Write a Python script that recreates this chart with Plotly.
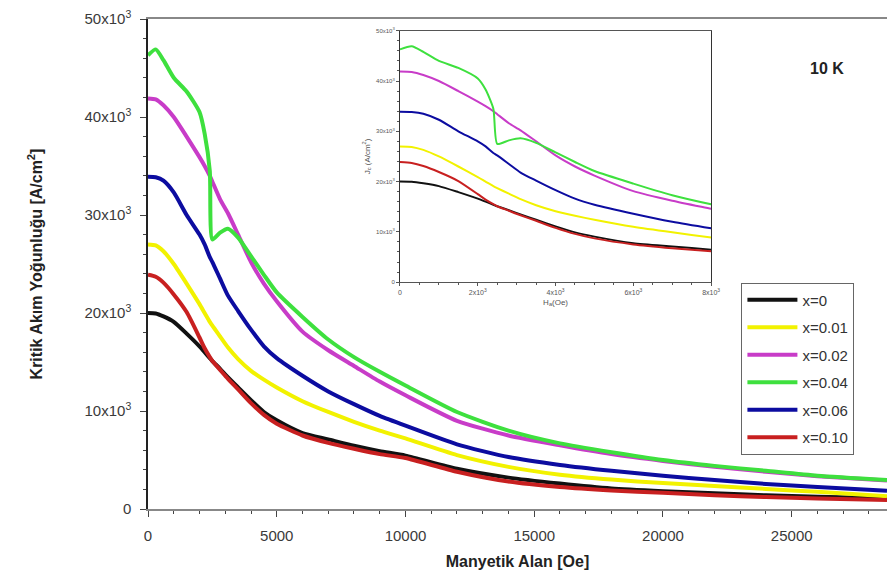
import plotly.graph_objects as go

# Applied magnetic field (Oe)
field_oe = [0, 300, 600, 1000, 1500, 2000, 2200, 2400, 2500, 2800, 3100, 3500, 4000, 4500,
            5000, 6000, 7000, 8000, 9000, 10000, 12000, 14000, 16000, 18000, 20000, 22000,
            24000, 26000, 28700]

# Critical current density (A/cm^2) for each composition
jc_x000 = [20000, 19950, 19650, 19100, 17900, 16600, 16000, 15400, 15100, 14300, 13450, 12400,
           11100, 9900, 9050, 7750, 7100, 6450, 5900, 5450, 4100, 3200, 2600, 2100, 1820, 1600,
           1400, 1250, 1100]
jc_x001 = [27000, 26900, 26300, 25000, 23000, 20900, 20000, 19100, 18700, 17600, 16500, 15300,
           14100, 13200, 12400, 11000, 9900, 8900, 8000, 7200, 5500, 4300, 3500, 3000, 2650, 2350,
           2050, 1750, 1300]
jc_x002 = [41900, 41800, 41200, 40000, 38000, 35900, 35000, 34000, 33400, 31600, 30200, 28000,
           25200, 23000, 21200, 18100, 16200, 14600, 13000, 11600, 9000, 7500, 6500, 5600, 4900,
           4300, 3800, 3350, 2900]
jc_x004 = [46300, 46900, 45800, 44000, 42600, 40500, 38300, 34500, 27500, 28200, 28600, 27700,
           25800, 23900, 22100, 19600, 17300, 15500, 14000, 12600, 9900, 8000, 6700, 5800, 5000,
           4400, 3900, 3400, 2950]
jc_x006 = [33900, 33850, 33500, 32300, 30000, 28000, 27000, 25700, 25200, 23500, 21800, 20200,
           18300, 16600, 15400, 13600, 12000, 10700, 9500, 8500, 6600, 5300, 4500, 3900, 3400,
           2950, 2550, 2250, 1870]
jc_x010 = [23900, 23700, 23100, 21900, 20100, 17500, 16400, 15500, 15100, 14200, 13300, 12200,
           10800, 9600, 8700, 7500, 6750, 6150, 5600, 5200, 3800, 2800, 2250, 1900, 1650, 1400,
           1220, 1080, 920]

series_names = ["x=0", "x=0.01", "x=0.02", "x=0.04", "x=0.06", "x=0.10"]
series_values = [jc_x000, jc_x001, jc_x002, jc_x004, jc_x006, jc_x010]
series_colors = ["#111111", "#f2f200", "#c83cc8", "#3ee03e", "#0c0ca0", "#c82020"]

main_xticks = [0, 5000, 10000, 15000, 20000, 25000]
main_yticks = [0, 10000, 20000, 30000, 40000, 50000]
main_ytext = ["0", "10x10<sup>3</sup>", "20x10<sup>3</sup>", "30x10<sup>3</sup>",
              "40x10<sup>3</sup>", "50x10<sup>3</sup>"]
inset_xticks = [0, 2000, 4000, 6000, 8000]
inset_xtext = ["0", "2x10<sup>3</sup>", "4x10<sup>3</sup>", "6x10<sup>3</sup>", "8x10<sup>3</sup>"]

FONT = "Liberation Sans, Arial, sans-serif"

fig = go.Figure()

# Main panel
for name, vals, col in zip(series_names, series_values, series_colors):
    fig.add_trace(go.Scatter(x=field_oe, y=vals, mode="lines", name=name,
                             legendgroup=name,
                             line=dict(color=col, width=4, shape="spline", smoothing=0.6),
                             xaxis="x", yaxis="y"))

# Inset: low-field region
for name, vals, col in zip(series_names, series_values, series_colors):
    fig.add_trace(go.Scatter(x=field_oe, y=vals, mode="lines", name=name,
                             legendgroup=name, showlegend=False,
                             line=dict(color=col, width=2, shape="spline", smoothing=0.6),
                             xaxis="x2", yaxis="y2"))

fig.update_layout(
    width=896, height=583,
    margin=dict(l=148, r=0, t=19, b=74),
    paper_bgcolor="white", plot_bgcolor="white",
    font=dict(family=FONT, color="#333333"),
    showlegend=True,
    legend=dict(x=0.803, y=0.462, xanchor="left", yanchor="top",
                bordercolor="#666666", borderwidth=1, bgcolor="white",
                font=dict(size=15, color="#333333"), tracegroupgap=5,
                itemwidth=50),
    xaxis=dict(domain=[0, 1], range=[0, 28700], tickvals=main_xticks, tickformat="d",
               showgrid=False, zeroline=False, showline=True, linecolor="#888888",
               linewidth=2, mirror=True, ticks="outside", ticklen=6, tickcolor="#444444",
               ticklabelstandoff=6,
               minor=dict(dtick=1000, ticks="outside", ticklen=3, tickcolor="#444444"),
               tickfont=dict(size=15, color="#3a3a3a"),
               title=dict(text="<b>Manyetik Alan [Oe]</b>", font=dict(size=16, color="#222222"),
                          standoff=13)),
    yaxis=dict(domain=[0, 1], range=[0, 50000], tickvals=main_yticks, ticktext=main_ytext,
               showgrid=False, zeroline=False, showline=True, linecolor="#222222",
               linewidth=1.5, ticks="outside", ticklen=6, tickcolor="#444444",
               ticklabelstandoff=6,
               minor=dict(dtick=2000, ticks="outside", ticklen=3, tickcolor="#444444"),
               tickfont=dict(size=15, color="#3a3a3a"),
               title=dict(text="<b>Kritik Akım Yoğunluğu [A/cm<sup>2</sup>]</b>",
                          font=dict(size=16, color="#222222"), standoff=38)),
    xaxis2=dict(domain=[0.341, 0.762], anchor="y2", range=[0, 8000], tickvals=inset_xticks,
                ticktext=inset_xtext, showgrid=False, zeroline=False, showline=True,
                linecolor="#555555", linewidth=1, mirror=True, ticks="outside", ticklen=3,
                tickcolor="#555555",
                minor=dict(dtick=500, ticks="outside", ticklen=2, tickcolor="#555555"),
                tickfont=dict(size=7, color="#555555"),
                title=dict(text="H<sub>a</sub>(Oe)", font=dict(size=8, color="#555555"),
                           standoff=4)),
    yaxis2=dict(domain=[0.463, 0.976], anchor="x2", range=[0, 50000], tickvals=main_yticks,
                ticktext=main_ytext, showgrid=False, zeroline=False, showline=True,
                linecolor="#333333", linewidth=1, mirror=True, ticks="outside", ticklen=3,
                tickcolor="#555555",
                minor=dict(dtick=2000, ticks="outside", ticklen=2, tickcolor="#555555"),
                tickfont=dict(size=6, color="#555555"),
                title=dict(text="J<sub>c</sub> (A/cm<sup>2</sup>)",
                           font=dict(size=8, color="#555555"), standoff=4)),
    annotations=[dict(text="<b>10 K</b>", x=0.945, y=0.92, xref="paper", yref="paper",
                      showarrow=False, font=dict(size=16, color="#222222"))],
)

fig.write_html("out.html")
